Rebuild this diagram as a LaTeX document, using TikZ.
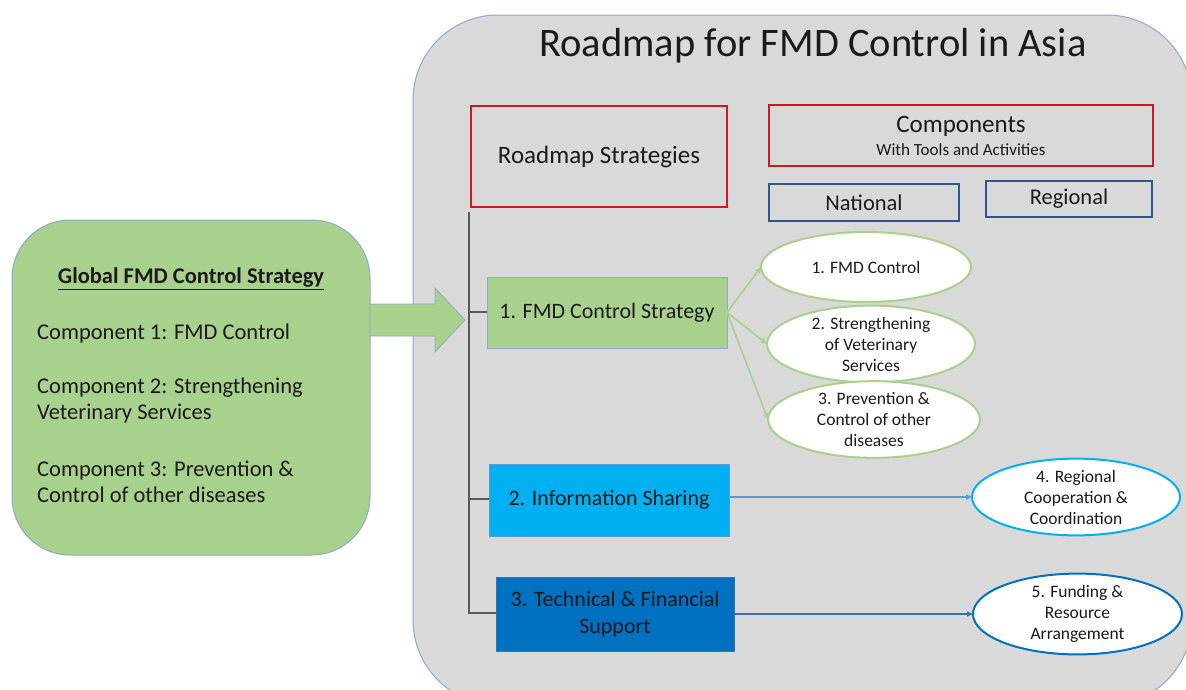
\documentclass[tikz,border=0pt]{standalone}
\usepackage{fontspec}
\setmainfont{Carlito}
\usetikzlibrary{arrows.meta,shapes.geometric}
\definecolor{bggrey}{HTML}{D9D9D9}
\definecolor{edgegrey}{HTML}{8EA9C9}
\definecolor{lgreen}{HTML}{A9D18E}
\definecolor{cyanb}{HTML}{00B0F0}
\definecolor{darkb}{HTML}{0070C0}
\definecolor{redb}{HTML}{D01818}
\definecolor{navyb}{HTML}{2F5597}
\definecolor{midblue}{HTML}{5B9BD5}
\definecolor{deepblue}{HTML}{2E75B6}
\definecolor{stem}{HTML}{595959}
\definecolor{ink}{HTML}{1A1A1A}
\tikzset{
  fs/.style={font=\fontsize{#1}{#1}\selectfont},
  stratbox/.style={draw=edgegrey, line width=0.8pt, inner sep=2pt, outer sep=0pt, align=center, text=ink, fs=22},
  redbox/.style={draw=redb, line width=2pt, inner sep=0pt, outer sep=0pt, align=center, text=ink},
  bluebox/.style={draw=navyb, line width=1.6pt, inner sep=0pt, outer sep=0pt, align=center, text=ink, fs=22.5},
  comp/.style={ellipse, fill=white, line width=2pt, inner sep=0pt, outer sep=0pt, align=center, text=ink, font=\fontsize{17.5}{21}\selectfont},
  garrow/.style={draw=lgreen, line width=1.6pt, -{Triangle[length=6pt,width=5pt]}},
  barrow/.style={line width=1.4pt, -{Triangle[length=6pt,width=5pt]}},
  stemline/.style={draw=stem, line width=2pt},
  plain/.style={text=ink, inner sep=0pt},
}
\begin{document}
\begin{tikzpicture}[x=1pt,y=-1pt]
\useasboundingbox (0,0) rectangle (1186,689);
% big grey panel
\begin{scope}
\clip (0,0) rectangle (1186,689);
\draw[fill=bggrey, draw=edgegrey, line width=1pt, rounded corners=85pt] (413,15) rectangle (1192,705);
\end{scope}
\node[plain, fs=40.5] (title) at (813,46) {Roadmap for FMD Control in Asia};

% left green box
\node[draw=edgegrey, fill=lgreen, line width=1pt, rounded corners=58pt, minimum width=358pt, minimum height=335pt, inner sep=0pt] (global) at (191,387.5) {};
\node[plain, font=\fontsize{22.5}{25}\selectfont\bfseries] (gtitle) at (191,279) {\underline{Global FMD Control Strategy}};
\node[plain, fs=22.5, anchor=west] (c1) at (37,333) {Component 1: FMD Control};
\node[plain, anchor=west, align=left, font=\fontsize{22.5}{26}\selectfont] (c2) at (37,400.5) {Component 2: Strengthening\\Veterinary Services};
\node[plain, anchor=west, align=left, font=\fontsize{22.5}{26}\selectfont] (c3) at (37,482) {Component 3: Prevention \&\\Control of other diseases};

% block arrow
\draw[fill=lgreen, draw=edgegrey, line width=0.8pt] (370,304) -- (435,304) -- (435,288) -- (465,320) -- (435,352) -- (435,336) -- (370,336) -- cycle;

% header boxes
\node[redbox, minimum width=256pt, minimum height=101pt, fs=25] (rs) at (599,156.5) {Roadmap Strategies};
\node[redbox, minimum width=384pt, minimum height=61pt, font=\fontsize{17}{23}\selectfont] (comps) at (961,135.5) {{\fontsize{25}{25}\selectfont Components}\\With Tools and Activities};
\node[bluebox, minimum width=190pt, minimum height=37pt] (nat) at (864,202.5) {National};
\node[bluebox, minimum width=166pt, minimum height=36pt] (reg) at (1069,199) {Regional};

% strategy boxes
\node[stratbox, fill=lgreen, minimum width=240pt, minimum height=71pt] (s1) at (607,312.5) {1. FMD Control Strategy};
\node[stratbox, fill=cyanb, draw=midblue, minimum width=240pt, minimum height=72pt] (s2) at (609,500) {2. Information Sharing};
\node[stratbox, fill=darkb, draw=deepblue, minimum width=238pt, minimum height=74pt, font=\fontsize{22}{27}\selectfont] (s3) at (615,614) {3. Technical \& Financial\\Support};

% stem
\coordinate (top) at (469,212);
\coordinate (j1) at (469,312);
\coordinate (j2) at (469,499);
\coordinate (j3) at (469,613);
\draw[stemline] (top) -- (j3) -- (s3.west |- j3);
\draw[stemline] (j1) -- (s1.west |- j1);
\draw[stemline] (j2) -- (s2.west |- j2);

% component ellipses
\node[comp, draw=lgreen, minimum width=210pt, minimum height=70pt] (e1) at (866,267) {1. FMD Control};
\node[comp, draw=lgreen, minimum width=208pt, minimum height=70pt] (e2) at (871,344) {2. Strengthening\\of Veterinary\\Services};
\node[comp, draw=lgreen, minimum width=212pt, minimum height=75pt] (e3) at (874,419.5) {3. Prevention \&\\Control of other\\diseases};
\node[comp, draw=cyanb, minimum width=208pt, minimum height=75pt] (e4) at (1076,497) {4. Regional\\Cooperation \&\\Coordination};
\node[comp, draw=darkb, minimum width=209pt, minimum height=72pt] (e5) at (1077.5,614) {5. Funding \&\\Resource\\Arrangement};

% connectors
\draw[garrow] (s1.east) -- (e1.west);
\draw[garrow] (s1.east) -- (e2.west);
\draw[garrow] (s1.east) -- (e3.west);
\draw[barrow, draw=midblue] (s2.east |- e4.west) -- (e4.west);
\draw[barrow, draw=deepblue] (s3.east) -- (e5.west);
\end{tikzpicture}
\end{document}
